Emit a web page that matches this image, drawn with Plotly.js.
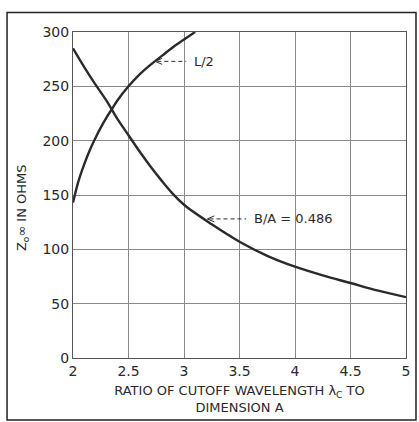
<!DOCTYPE html>
<html>
<head>
<meta charset="utf-8">
<script src="https://cdn.plot.ly/plotly-3.0.1.min.js"></script>
<style>html,body{margin:0;padding:0;background:#fff;}#chart{width:419px;height:422px;}</style>
</head>
<body>
<div id="chart"></div>
<script>
// L/2 curve
const lX = [2.0, 2.05, 2.1, 2.15, 2.2, 2.25, 2.3, 2.35, 2.4, 2.5, 2.6, 2.7, 2.8, 2.9, 3.0, 3.1];
const lY = [143, 163, 178, 191, 202, 212, 221, 229, 237, 250, 261, 270, 278, 286, 293, 300];
// B/A = 0.486 curve
const bX = [2.0, 2.1, 2.2, 2.3, 2.4, 2.5, 2.6, 2.7, 2.8, 2.9, 3.0, 3.25, 3.5, 3.75, 4.0, 4.25, 4.5, 4.75, 5.0];
const bY = [285, 268, 252, 237, 220, 205, 190, 176, 163, 151, 141, 123, 107, 94, 84, 76, 69, 62, 56];
const xTicks = [2, 2.5, 3, 3.5, 4, 4.5, 5];
const xTickText = ['2', '2.5', '3', '3.5', '4', '4.5', '5'];
const yTicks = [0, 50, 100, 150, 200, 250, 300];
const labels = ['L/2', 'B/A = 0.486'];

const ink = '#2a2a2a';
const fam = 'DejaVu Sans, sans-serif';
const font = {family: fam, size: 13, color: ink};

const traces = [
  {x: lX, y: lY, mode: 'lines', line: {color: ink, width: 2.4, shape: 'spline'}, hoverinfo: 'skip', showlegend: false},
  {x: bX, y: bY, mode: 'lines', line: {color: ink, width: 2.4, shape: 'spline'}, hoverinfo: 'skip', showlegend: false}
];

function arrowHead(x, y) {
  return {type: 'path', xref: 'x', yref: 'y', xsizemode: 'pixel', ysizemode: 'pixel',
    xanchor: x, yanchor: y, path: 'M7,-3 L0,0 L7,3', line: {color: ink, width: 1}};
}

const layout = {
  width: 419, height: 422,
  margin: {l: 73, r: 13, t: 32, b: 64},
  paper_bgcolor: '#fff', plot_bgcolor: '#fff',
  font: font,
  showlegend: false,
  xaxis: {
    range: [2, 5], tickvals: xTicks, ticktext: xTickText,
    showgrid: true, gridcolor: '#8a8a8a', gridwidth: 1,
    zeroline: false, showline: true, linecolor: '#555', linewidth: 1,
    ticks: '', tickfont: {family: fam, size: 14, color: ink},
    title: {text: 'RATIO OF CUTOFF WAVELENGTH λ<sub>C</sub> TO<br>DIMENSION A', font: {family: fam, size: 13, color: ink}, standoff: 8},
    automargin: false, mirror: true
  },
  yaxis: {
    range: [0, 300], tickvals: yTicks,
    showgrid: true, gridcolor: '#8a8a8a', gridwidth: 1,
    zeroline: false, showline: true, linecolor: '#555', linewidth: 1,
    ticks: '', tickfont: {family: fam, size: 14, color: ink},
    automargin: false, mirror: true
  },
  shapes: [
    {type: 'rect', xref: 'paper', yref: 'paper', x0: -0.198, x1: 1.03, y0: -0.19, y1: 1.06, line: {color: '#222', width: 1.5}},
    {type: 'line', xref: 'x', yref: 'y', x0: 2.76, y0: 273, x1: 3.02, y1: 273, line: {color: ink, width: 1, dash: '4px,3px'}},
    {type: 'line', xref: 'x', yref: 'y', x0: 3.23, y0: 128, x1: 3.56, y1: 128, line: {color: ink, width: 1, dash: '4px,3px'}},
    arrowHead(2.74, 273),
    arrowHead(3.21, 128)
  ],
  annotations: [
    {x: 3.07, y: 273, xref: 'x', yref: 'y', text: labels[0], showarrow: false, xanchor: 'left', font: font},
    {x: 3.61, y: 128, xref: 'x', yref: 'y', text: labels[1], showarrow: false, xanchor: 'left', font: font},
    {x: -0.153, y: 0.46, xref: 'paper', yref: 'paper', text: 'Z<sub>o</sub>∞ IN OHMS', textangle: -90, showarrow: false,
     xanchor: 'center', yanchor: 'middle', font: {family: fam, size: 13, color: ink}}
  ]
};

Plotly.newPlot('chart', traces, layout, {staticPlot: true, displayModeBar: false});
</script>
</body>
</html>
